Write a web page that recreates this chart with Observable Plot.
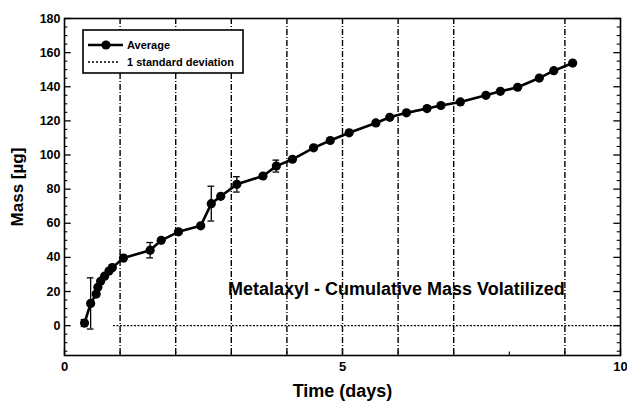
<!DOCTYPE html>
<html>
<head>
<meta charset="utf-8">
<script src="https://cdn.jsdelivr.net/npm/d3@7"></script>
<script src="https://cdn.jsdelivr.net/npm/@observablehq/plot@0.6"></script>
<style>
  html, body { margin: 0; padding: 0; background: white; }
</style>
</head>
<body>
<div id="chart"></div>
<script>
// ---- data ----
const timeDays = [0.36, 0.47, 0.57, 0.60, 0.65, 0.72, 0.80, 0.86, 1.06, 1.54, 1.74, 2.05, 2.45, 2.64, 2.81, 3.10, 3.57, 3.81, 4.10, 4.48, 4.78, 5.12, 5.60, 5.85, 6.15, 6.52, 6.77, 7.12, 7.58, 7.84, 8.15, 8.54, 8.80, 9.14];
const massUg   = [1.5, 13, 18.5, 22.5, 26, 29, 32, 34, 39.6, 44.2, 50, 55, 58.5, 71.5, 75.8, 82.8, 87.7, 93.5, 97.5, 104.2, 108.5, 113, 118.8, 122.1, 124.7, 127.2, 129, 131.1, 135, 137.3, 139.7, 145.1, 149.4, 153.9];
const stdDev   = [2, 15, 0, 0, 0, 0, 0, 0, 2, 4.5, 0, 0, 0, 10.2, 0, 4.5, 0, 3.5, 0, 0, 0, 0, 0, 0, 0, 0, 0, 0, 0, 0, 0, 0, 0, 0];

const gridDays = [1, 2, 3, 4, 5, 6, 7, 9];
const yMajorTicks = [0, 20, 40, 60, 80, 100, 120, 140, 160, 180];
const yMinorTicks = d3.range(-15, 180, 5).filter(v => v % 20 !== 0);
const xTickLabels = [0, 5, 10];
const xMinorTicks = [1, 2, 3, 4, 6, 7, 8, 9];
const xDomain = [0, 10];
const yDomain = [-17.5, 180];
const zeroLineStart = 0.88;
const noteText = "Metalaxyl - Cumulative Mass Volatilized";
const noteX = 2.94, noteY = 21.5;

const rows = timeDays.map((t, i) => ({t, m: massUg[i], sd: stdDev[i]}));
const errRows = rows.filter(d => d.sd > 0);

const capHalf = 0.06;
const majorLenX = 0.12, minorLenX = 0.06;   // tick lengths in x units
const majorLenY = 4, minorLenY = 2;         // tick lengths in y units

const plot = Plot.plot({
  width: 627,
  height: 408,
  marginLeft: 64,
  marginRight: 7,
  marginTop: 18,
  marginBottom: 53,
  x: {domain: xDomain},
  y: {domain: yDomain},
  style: {fontFamily: "'Liberation Sans', Arial, sans-serif", fontWeight: "bold", fontSize: "12px", color: "black", background: "white"},
  marks: [
    Plot.ruleX(gridDays, {stroke: "black", strokeWidth: 1.4, strokeDasharray: "6,2,1,2"}),
    Plot.ruleY([0], {x1: zeroLineStart, x2: xDomain[1], stroke: "black", strokeWidth: 1.2, strokeDasharray: "2,1.5"}),
    Plot.axisY({ticks: yMajorTicks, tickSize: 0, tickPadding: 4, label: null, fontSize: 12.5}),
    Plot.axisX({ticks: xTickLabels, tickSize: 0, tickPadding: 6, label: null, fontSize: 13}),
    Plot.ruleY(yMajorTicks, {x1: xDomain[0], x2: xDomain[0] + majorLenX, strokeWidth: 1.3}),
    Plot.ruleY(yMinorTicks, {x1: xDomain[0], x2: xDomain[0] + minorLenX, strokeWidth: 1.1}),
    Plot.ruleY(yMajorTicks, {x1: xDomain[1] - majorLenX, x2: xDomain[1], strokeWidth: 1.3}),
    Plot.ruleY(yMinorTicks, {x1: xDomain[1] - minorLenX, x2: xDomain[1], strokeWidth: 1.1}),
    Plot.ruleX(xTickLabels, {y1: yDomain[0], y2: yDomain[0] + majorLenY, strokeWidth: 1.3}),
    Plot.ruleX(xMinorTicks, {y1: yDomain[0], y2: yDomain[0] + minorLenY, strokeWidth: 1.1}),
    Plot.frame({stroke: "black", strokeWidth: 1.6}),
    Plot.ruleX(errRows, {x: "t", y1: d => d.m - d.sd, y2: d => d.m + d.sd, strokeWidth: 1.3}),
    Plot.ruleY(errRows, {y: d => d.m + d.sd, x1: d => d.t - capHalf, x2: d => d.t + capHalf, strokeWidth: 1.3}),
    Plot.ruleY(errRows, {y: d => d.m - d.sd, x1: d => d.t - capHalf, x2: d => d.t + capHalf, strokeWidth: 1.3}),
    Plot.line(rows, {x: "t", y: "m", stroke: "black", strokeWidth: 2.6}),
    Plot.dot(rows, {x: "t", y: "m", r: 4.6, fill: "black", stroke: "none"}),
    Plot.text([noteText], {x: () => noteX, y: () => noteY, text: d => d, textAnchor: "start", fontSize: 18, fontWeight: "bold"}),
    Plot.text(["Time (days)"], {frameAnchor: "bottom", dy: 36, text: d => d, textAnchor: "middle", lineAnchor: "middle", fontSize: 18, fontWeight: "bold"}),
    Plot.text(["Mass [µg]"], {frameAnchor: "left", dx: -47, text: d => d, rotate: -90, textAnchor: "middle", lineAnchor: "middle", fontSize: 17, fontWeight: "bold"})
  ]
});

// legend box
const svg = d3.select(plot);
const lg = svg.append("g")
  .attr("font-family", "'Liberation Sans', Arial, sans-serif")
  .attr("font-weight", "bold").attr("font-size", 11).attr("text-anchor", "start");
lg.append("rect").attr("x", 83).attr("y", 30).attr("width", 160).attr("height", 43)
  .attr("fill", "white").attr("stroke", "black").attr("stroke-width", 1.6);
lg.append("line").attr("x1", 88).attr("x2", 123).attr("y1", 45).attr("y2", 45)
  .attr("stroke", "black").attr("stroke-width", 2.6);
lg.append("circle").attr("cx", 106).attr("cy", 45).attr("r", 4.6).attr("fill", "black");
lg.append("text").attr("x", 127).attr("y", 45).attr("dy", "0.35em").attr("text-anchor", "start").text("Average");
lg.append("line").attr("x1", 88).attr("x2", 120).attr("y1", 62).attr("y2", 62)
  .attr("stroke", "black").attr("stroke-width", 1.4).attr("stroke-dasharray", "2,2");
lg.append("text").attr("x", 127).attr("y", 62).attr("dy", "0.35em").attr("text-anchor", "start").text("1 standard deviation");

document.getElementById("chart").appendChild(plot);
</script>
</body>
</html>
